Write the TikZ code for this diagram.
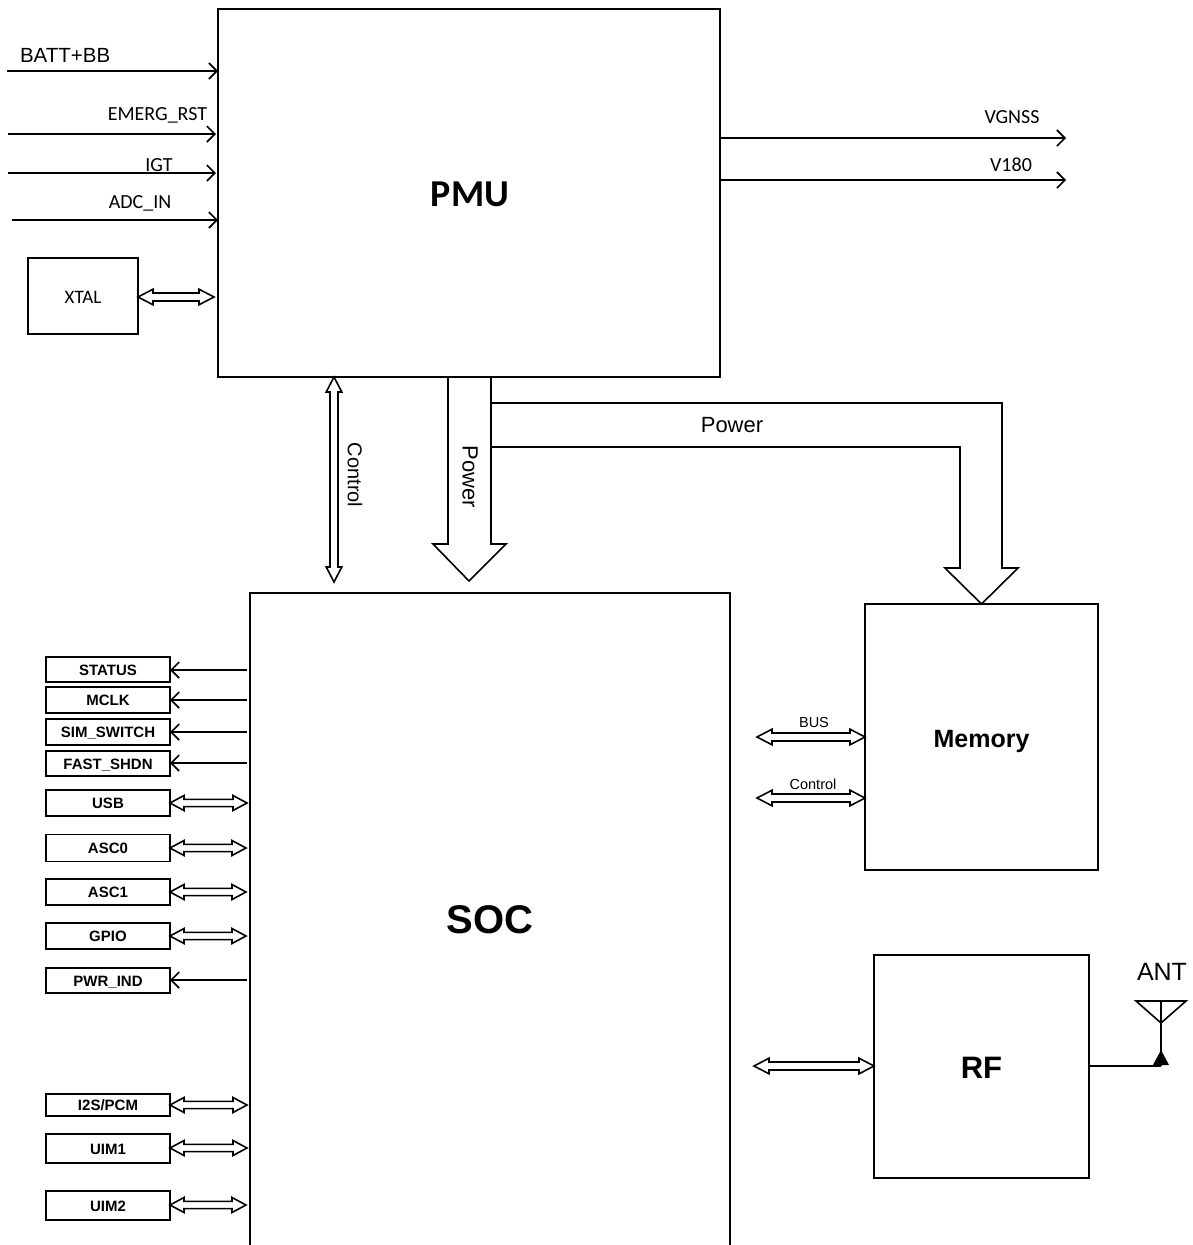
\documentclass[tikz,border=0pt]{standalone}
\usepackage{fontspec}
\setmainfont{Liberation Sans}
\newfontfamily\calfam{Carlito}
\usetikzlibrary{arrows.meta,calc}
\newcommand{\fsz}[1]{\fontsize{#1}{#1}\selectfont}
% hollow two-headed arrow between two named points: ends, head length, half head, half shaft
\newcommand{\hollowarrow}[6][]{%
  \coordinate (hp) at ($(#2)!#4pt!(#3)$);
  \coordinate (hq) at ($(#3)!#4pt!(#2)$);
  \draw[conn,fill=white,#1] (#2) -- ($(hp)!#5pt!90:(#3)$) -- ($(hp)!#6pt!90:(#3)$)
    -- ($(hq)!#6pt!-90:(#2)$) -- ($(hq)!#5pt!-90:(#2)$) -- (#3)
    -- ($(hq)!#5pt!90:(#2)$) -- ($(hq)!#6pt!90:(#2)$)
    -- ($(hp)!#6pt!-90:(#3)$) -- ($(hp)!#5pt!-90:(#3)$) -- cycle;
}
\tikzset{
  conn/.style={line width=1.6pt,draw=black,line join=miter},
  sig/.style={conn,-{Straight Barb[length=8pt,width=16pt,line width=1.6pt]}},
  box/.style={draw=black,line width=1.6pt,rectangle,inner sep=0pt,outer sep=0pt,fill=none},
  pin/.style={box,minimum width=124pt,font=\fsz{15}\bfseries,text height=11pt,text depth=0pt},
  lab/.style={inner sep=0pt,outer sep=0pt},
}
\begin{document}
\begin{tikzpicture}[x=1pt,y=-1pt]
\useasboundingbox (0,0) rectangle (1192,1245);
\clip (0,0) rectangle (1192,1245);
% main blocks
\node[box,minimum width=502pt,minimum height=368pt] (pmu) at (469,193) {};
\node[lab,font=\calfam\fsz{38}\bfseries] (pmut) at (470,194) {PMU};
\node[box,minimum width=480pt,minimum height=714pt] (soc) at (490,950) {};
\node[lab,font=\fsz{40}\bfseries] (soct) at (490,920) {SOC};
\node[box,minimum width=233pt,minimum height=266pt,font=\fsz{25}\bfseries,text height=20pt,text depth=0pt] (mem) at (981.5,737) {Memory};
\node[box,minimum width=215pt,minimum height=223pt,font=\fsz{31}\bfseries,text height=24pt,text depth=0pt] (rf) at (981.5,1066.5) {RF};
\node[box,minimum width=110pt,minimum height=76pt,font=\calfam\fsz{19},text height=14pt,text depth=0pt] (xtal) at (83,296) {XTAL};
% PMU inputs
\coordinate (batt) at (7,71);
\coordinate (emrg) at (8,134);
\coordinate (igt) at (8,173);
\coordinate (adc) at (12,220);
\coordinate (emrge) at (216,134);
\coordinate (igte) at (216,173);
\draw[sig] (batt) -- (batt -| pmu.west);
\draw[sig] (emrg) -- (emrge);
\draw[sig] (igt) -- (igte);
\draw[sig] (adc) -- (adc -| pmu.west);
\node[lab,anchor=west,font=\fsz{20.5}] (battl) at (20,55) {BATT+BB};
\node[lab,font=\calfam\fsz{20}] (emrgl) at (157.5,115.5) {EMERG\_RST};
\node[lab,font=\calfam\fsz{20}] (igtl) at (159,165) {IGT};
\node[lab,font=\calfam\fsz{20}] (adcl) at (140,203.5) {ADC\_IN};
\coordinate (xe) at (214,297);
\coordinate (xs) at (xtal.east |- xe);
\hollowarrow{xs}{xe}{15}{7.8}{4}
% PMU outputs
\coordinate (vg) at (1066,138);
\coordinate (v18) at (1066,180);
\draw[sig] (vg -| pmu.east) -- (vg);
\draw[sig] (v18 -| pmu.east) -- (v18);
\node[lab,font=\calfam\fsz{20}] (vgl) at (1012,117) {VGNSS};
\node[lab,font=\calfam\fsz{20}] (v18l) at (1011,165) {V180};
% control PMU-SOC
\coordinate (cb) at (334,582);
\coordinate (ct) at (pmu.south -| cb);
\hollowarrow{ct}{cb}{15}{7.8}{4}
\node[lab,rotate=-90,font=\fsz{20}] (ctl) at (355,475) {Control};
% power PMU-SOC
\coordinate (pl) at (448,544);
\coordinate (pr) at (491,544);
\coordinate (pwl) at (433,544);
\coordinate (pwr) at (506,544);
\coordinate (ptip) at (469,581);
\draw[conn] (pmu.south -| pl) -- (pl) -- (pwl) -- (ptip) -- (pwr) -- (pr) -- (pmu.south -| pr);
\node[lab,rotate=-90,font=\fsz{22}] (pwt) at (470,477) {Power};
% power PMU-Memory
\coordinate (mo) at (1002,403);
\coordinate (mi) at (960,447);
\coordinate (mol) at (1002,568);
\coordinate (mil) at (960,568);
\coordinate (mwl) at (945,568);
\coordinate (mwr) at (1018,568);
\draw[conn] (pr |- mo) -- (mo) -- (mol) -- (mwr) -- (mem.north) -- (mwl) -- (mil) -- (mi) -- (pr |- mi);
\node[lab,font=\fsz{22}] (pwm) at (732,425) {Power};
% memory buses
\coordinate (bs) at (757,737);
\coordinate (cs) at (757,798);
\coordinate (bse) at (bs -| mem.west);
\coordinate (cse) at (cs -| mem.west);
\hollowarrow{bs}{bse}{15}{7.8}{4}
\hollowarrow{cs}{cse}{15}{7.8}{4}
\node[lab,font=\fsz{14.5}] (bl) at (814,722) {BUS};
\node[lab,font=\fsz{14.5}] (cl) at (813,784) {Control};
% RF
\coordinate (rs) at (754,1066);
\coordinate (rse) at (rs -| rf.west);
\hollowarrow{rs}{rse}{15}{7.8}{4}
\coordinate (apb) at (1161,1066);
\coordinate (apx) at (1161,1023);
\coordinate (apt) at (1161,1001);
\coordinate (apl) at (1136,1001);
\coordinate (apr) at (1186,1001);
\coordinate (atip) at (1161,1050);
\coordinate (abl) at (1153,1065);
\coordinate (abr) at (1169,1065);
\draw[conn] (rf.east |- apb) -- (apb);
\draw[conn] (apt) -- (apb);
\draw[conn] (apl) -- (apr) -- (apx) -- cycle;
\fill (atip) -- (abr) -- (abl) -- cycle;
\node[lab,font=\fsz{25}] (antl) at (1162,972) {ANT};
% SOC pins
\node[pin,minimum height=25pt] (p1) at (108,669.5) {STATUS};
\node[pin,minimum height=26pt] (p2) at (108,700) {MCLK};
\node[pin,minimum height=26pt] (p3) at (108,732) {SIM\_SWITCH};
\node[pin,minimum height=25pt] (p4) at (108,763.5) {FAST\_SHDN};
\node[pin,minimum height=26pt] (p5) at (108,803) {USB};
\node[pin,minimum height=27pt] (p6) at (108,848) {ASC0};
\node[pin,minimum height=26pt] (p7) at (108,892) {ASC1};
\node[pin,minimum height=26pt] (p8) at (108,936) {GPIO};
\node[pin,minimum height=25pt] (p9) at (108,980.5) {PWR\_IND};
\node[pin,minimum height=22pt] (p10) at (108,1105) {I2S/PCM};
\node[pin,minimum height=29pt] (p11) at (108,1148.5) {UIM1};
\node[pin,minimum height=29pt] (p12) at (108,1205.5) {UIM2};
\foreach \n/\y in {p1/670,p2/700,p3/732,p4/763,p9/980}{
  \coordinate (s\n) at (247,\y);
  \draw[sig] (s\n) -- (s\n -| \n.east);
}
\foreach \n/\y/\x in {p5/803/247,p6/848/246,p7/892/246,p8/936/246,p10/1105/247,p11/1148/247,p12/1205/246}{
  \coordinate (e\n) at (\x,\y);
  \coordinate (b\n) at (\n.east |- e\n);
  \hollowarrow{b\n}{e\n}{14}{7.5}{3.6}
}
\end{tikzpicture}
\end{document}
